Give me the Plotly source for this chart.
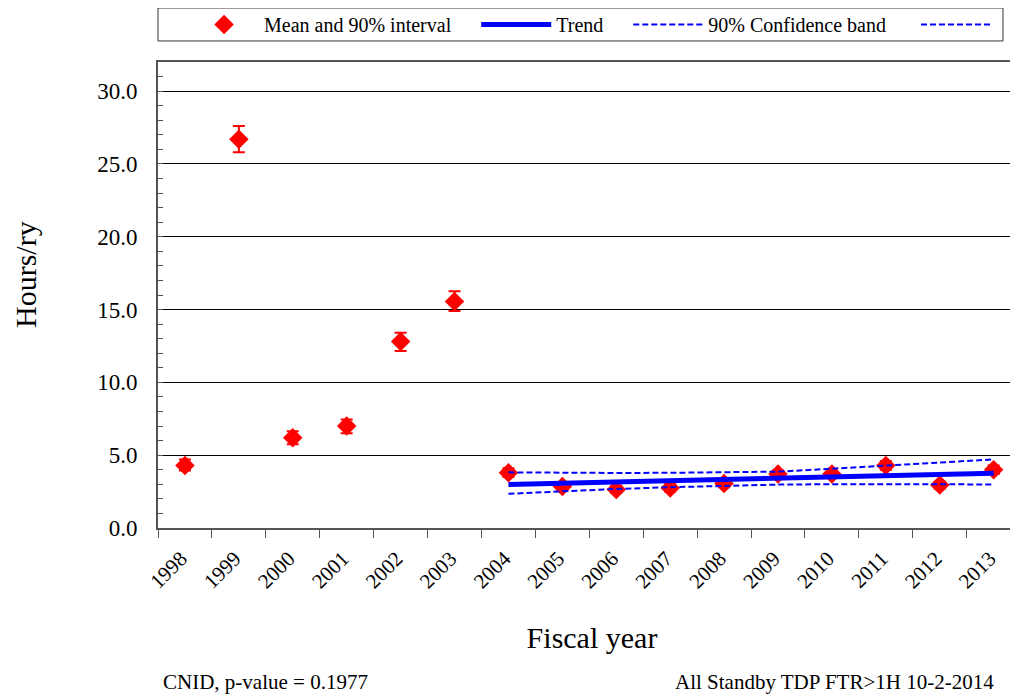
"""Standby TDP hours per reactor-year by fiscal year, with trend and 90% band."""

import plotly.graph_objects as go

FONT = "Liberation Serif, Times New Roman, serif"
RED = "#ff0000"
BLUE = "#0000ff"
AXIS = "#555555"
NBSP = "\u00a0"

years = [str(y) for y in range(1998, 2014)]
means = [4.3, 26.7, 6.2, 7.0, 12.8, 15.55, 3.8, 2.85, 2.65, 2.75, 3.05, 3.7, 3.7, 4.3, 2.95, 4.0]
lower = [3.95, 25.8, 5.75, 6.5, 12.15, 14.9, 3.5, 2.6, 2.4, 2.5, 2.8, 3.45, 3.45, 4.0, 2.7, 3.7]
upper = [4.7, 27.6, 6.65, 7.45, 13.4, 16.25, 4.1, 3.1, 2.9, 3.0, 3.3, 3.95, 3.95, 4.6, 3.2, 4.3]

trend_years = years[6:]
trend = [2.99, 3.08, 3.16, 3.25, 3.33, 3.42, 3.50, 3.59, 3.67, 3.76]
band_hi = [3.82, 3.79, 3.78, 3.79, 3.82, 3.87, 4.07, 4.29, 4.52, 4.71]
band_lo = [2.35, 2.53, 2.68, 2.80, 2.91, 2.98, 3.01, 3.02, 3.01, 2.98]

fig = go.Figure()
fig.add_trace(go.Scatter(
    x=years, y=means, mode="markers", name="Mean and 90% interval" + NBSP * 4,
    marker=dict(symbol="diamond", size=15, color=RED),
    error_y=dict(
        type="data", symmetric=False,
        array=[u - m for u, m in zip(upper, means)],
        arrayminus=[m - lo for m, lo in zip(means, lower)],
        color=RED, thickness=2, width=6,
    ),
))
fig.add_trace(go.Scatter(
    x=trend_years, y=trend, mode="lines", name="Trend" + NBSP * 4,
    line=dict(color=BLUE, width=5),
))
fig.add_trace(go.Scatter(
    x=trend_years, y=band_hi, mode="lines", name="90% Confidence band" + NBSP * 5,
    line=dict(color=BLUE, width=2, dash="6px,3px"),
))
fig.add_trace(go.Scatter(
    x=trend_years, y=band_lo, mode="lines", name="",
    line=dict(color=BLUE, width=2, dash="6px,3px"),
))

fig.update_layout(
    width=1018, height=698,
    # the page adds an 8px body margin, so margins are trimmed to compensate;
    # autoexpand off so the legend does not push the plot area down
    margin=dict(l=150, r=0, t=54, b=178, autoexpand=False),
    paper_bgcolor="white", plot_bgcolor="white",
    font=dict(family=FONT, color="black", size=20),
    showlegend=True,
    legend=dict(
        orientation="h", x=0.030, xanchor="left", y=1.0805, yanchor="middle",
        borderwidth=0, itemwidth=70, bgcolor="rgba(0,0,0,0)",
        font=dict(family=FONT, size=20, color="black"),
    ),
    shapes=[
        # legend frame
        dict(type="rect", xref="paper", yref="paper",
             x0=0.0, x1=0.9735, y0=1.0451, y1=1.1159,
             line=dict(color="#333333", width=1)),
    ],
    annotations=[
        dict(text="Hours/ry", xref="paper", yref="paper",
             x=-0.152, y=0.543, xanchor="center", yanchor="middle",
             textangle=-90, showarrow=False, font=dict(size=30)),
        dict(text="CNID, p-value = 0.1977", xref="paper", yref="paper",
             x=0.0035, y=-0.3305, xanchor="left", yanchor="middle",
             showarrow=False, font=dict(size=21)),
        dict(text="All Standby TDP FTR>1H 10-2-2014", xref="paper", yref="paper",
             x=0.966, y=-0.3305, xanchor="right", yanchor="middle",
             showarrow=False, font=dict(size=21)),
    ],
)
fig.update_xaxes(
    type="category", range=[-0.5, 15.6], tickson="boundaries",
    tickangle=-45, tickfont=dict(size=21), ticklabelstandoff=8, ticklabelshift=-4,
    ticks="outside", ticklen=8, tickcolor=AXIS,
    showline=True, linecolor=AXIS, linewidth=2, mirror=True,
    showgrid=False, automargin=False,
    title=dict(text="Fiscal year", font=dict(size=30), standoff=35),
)
fig.update_yaxes(
    range=[0, 32], dtick=5, tickformat=".1f", tickfont=dict(size=23),
    ticks="inside", ticklen=5, tickcolor=AXIS, ticklabelstandoff=14,
    minor=dict(dtick=1, ticks="inside", ticklen=5, tickcolor=AXIS),
    showline=True, linecolor=AXIS, linewidth=2,
    showgrid=True, gridcolor="black", gridwidth=1,
    zeroline=False, automargin=False,
)

fig.write_html("out.html")
